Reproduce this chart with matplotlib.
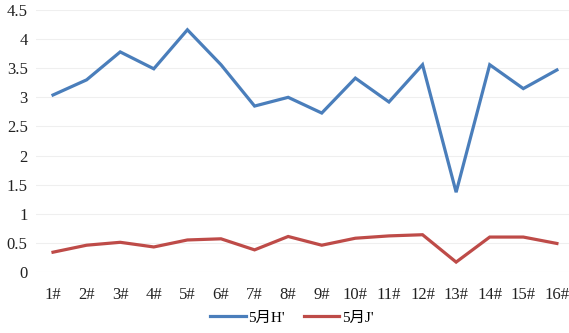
import matplotlib.pyplot as plt

# May H' and J' values per station
labels = ['%d#' % i for i in range(1, 17)]
h_vals = [3.04, 3.30, 3.78, 3.49, 4.16, 3.56, 2.85, 3.00, 2.73, 3.33, 2.92, 3.56, 1.37, 3.56, 3.15, 3.47]
j_vals = [0.34, 0.46, 0.51, 0.43, 0.55, 0.57, 0.38, 0.61, 0.46, 0.58, 0.62, 0.64, 0.17, 0.60, 0.60, 0.49]
yticks = [0, 0.5, 1, 1.5, 2, 2.5, 3, 3.5, 4, 4.5]

plt.rcParams['font.family'] = ['Liberation Serif', 'Noto Sans CJK SC']

fig = plt.figure(figsize=(5.69, 3.33), dpi=100)
ax = fig.add_axes([0.0633, 0.1832, 0.9367, 0.7868])

x = list(range(1, 17))
ax.plot(x, h_vals, color='#4A7EBB', lw=2.3, label="5月H'", solid_joinstyle='miter')
ax.plot(x, j_vals, color='#BE4B48', lw=2.3, label="5月J'", solid_joinstyle='miter')

ax.set_xlim(0.494, 16.36)
ax.set_ylim(0, 4.5)
ax.set_xticks(x)
ax.set_xticklabels(labels)
ax.set_yticks(yticks)
ax.set_yticklabels(['%g' % v for v in yticks])
ax.tick_params(length=0, labelsize=12, colors='#222222')
ax.tick_params(axis='x', pad=11)
ax.tick_params(axis='y', pad=6)
ax.grid(axis='y', color='#EFEFEF', lw=0.8)
ax.set_axisbelow(True)
for s in ax.spines.values():
    s.set_visible(False)

ax.legend(loc='upper center', bbox_to_anchor=(0.48, -0.12), ncol=2, frameon=False,
          fontsize=11, handlelength=2.3, columnspacing=1.3, handletextpad=0.15,
          borderaxespad=0.1)

fig.savefig('out.png', dpi=100)
